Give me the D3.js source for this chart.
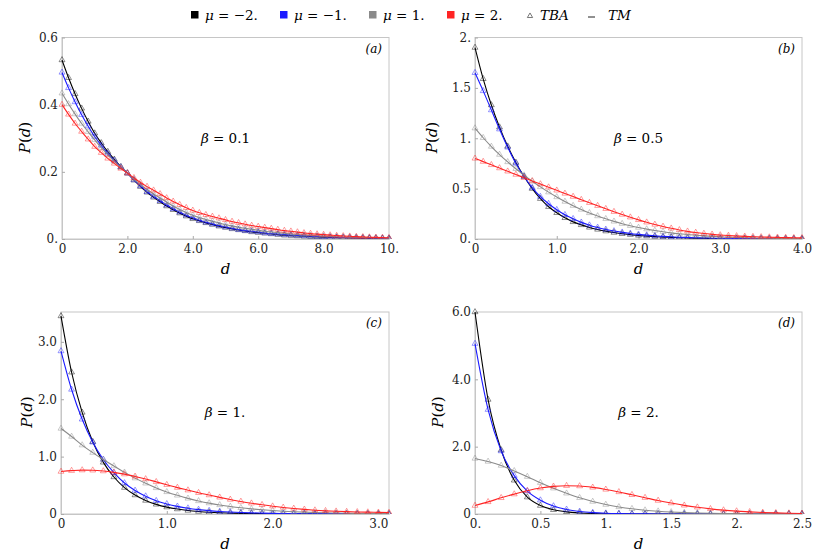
<!DOCTYPE html>
<html>
<head>
<meta charset="utf-8">
<script src="https://cdn.jsdelivr.net/npm/d3@7"></script>
<style>body { margin: 0; background: #fff; }</style>
</head>
<body>
<div id="chart"></div>
<script>
'use strict';

const seriesNames = ['−2.', '−1.', '1.', '2.'];
const seriesColours = ['#000000', '#1a1aff', '#8a8a8a', '#ff2424'];

// (a) beta = 0.1
const dA = [0, 0.2, 0.4, 0.6, 0.8, 1, 1.2, 1.4, 1.6, 1.8, 2, 2.2, 2.4, 2.6, 2.8, 3, 3.2, 3.4, 3.6, 3.8, 4,
    4.2, 4.4, 4.6, 4.8, 5, 5.2, 5.4, 5.6, 5.8, 6, 6.2, 6.4, 6.6, 6.8, 7, 7.2, 7.4, 7.6, 7.8, 8,
    8.2, 8.4, 8.6, 8.8, 9, 9.2, 9.4, 9.6, 9.8, 10];
const aMuM2 = [0.533, 0.480, 0.432, 0.389, 0.350, 0.315, 0.286, 0.260, 0.237, 0.215, 0.196, 0.175, 0.156, 0.139, 0.124, 0.111,
    0.098, 0.087, 0.077, 0.068, 0.060, 0.054, 0.048, 0.043, 0.038, 0.034, 0.030, 0.027, 0.024, 0.021, 0.019,
    0.017, 0.015, 0.013, 0.011, 0.010, 0.009, 0.008, 0.007, 0.006, 0.005, 0.0045, 0.004, 0.0036, 0.0032, 0.0028,
    0.0024, 0.002, 0.0017, 0.0014, 0.0012];
const aMuM1 = [0.496, 0.450, 0.408, 0.370, 0.336, 0.305, 0.279, 0.255, 0.234, 0.214, 0.196, 0.176, 0.158, 0.141, 0.127, 0.114,
    0.101, 0.090, 0.080, 0.071, 0.063, 0.056, 0.050, 0.045, 0.040, 0.036, 0.032, 0.028, 0.025, 0.023, 0.021,
    0.018, 0.016, 0.015, 0.013, 0.012, 0.0105, 0.0093, 0.0082, 0.0073, 0.0065, 0.0057, 0.005, 0.0044, 0.0039, 0.0034,
    0.003, 0.0026, 0.0023, 0.002, 0.0018];
const aMu1 = [0.434, 0.402, 0.372, 0.344, 0.319, 0.295, 0.272, 0.251, 0.231, 0.213, 0.196, 0.178, 0.162, 0.147, 0.134, 0.122,
    0.110, 0.098, 0.088, 0.079, 0.071, 0.064, 0.058, 0.053, 0.048, 0.043, 0.039, 0.035, 0.032, 0.029, 0.026,
    0.023, 0.021, 0.019, 0.017, 0.015, 0.0134, 0.012, 0.0107, 0.0095, 0.0085, 0.0076, 0.0068, 0.0061, 0.0055, 0.005,
    0.0044, 0.0038, 0.0033, 0.0029, 0.0025];
const aMu2 = [0.400, 0.371, 0.344, 0.320, 0.297, 0.275, 0.257, 0.240, 0.225, 0.210, 0.196, 0.182, 0.168, 0.156, 0.145, 0.134,
    0.122, 0.112, 0.102, 0.093, 0.085, 0.078, 0.072, 0.067, 0.062, 0.057, 0.052, 0.048, 0.044, 0.040, 0.037,
    0.034, 0.031, 0.028, 0.025, 0.023, 0.0205, 0.018, 0.016, 0.0145, 0.013, 0.0115, 0.010, 0.009, 0.008, 0.007,
    0.0062, 0.0054, 0.0047, 0.0041, 0.0035];

// (b) beta = 0.5
const dB = [0, 0.1, 0.2, 0.3, 0.4, 0.5, 0.6, 0.7, 0.8, 0.9, 1, 1.1, 1.2, 1.3, 1.4, 1.5, 1.6, 1.7, 1.8, 1.9, 2,
    2.1, 2.2, 2.3, 2.4, 2.5, 2.6, 2.7, 2.8, 2.9, 3, 3.1, 3.2, 3.3, 3.4, 3.5, 3.6, 3.7, 3.8, 3.9, 4];
const bMuM2 = [1.90, 1.59, 1.33, 1.11, 0.92, 0.76, 0.62, 0.50, 0.40, 0.32, 0.26, 0.21, 0.17, 0.14, 0.115, 0.095,
    0.078, 0.064, 0.052, 0.043, 0.035, 0.029, 0.024, 0.019, 0.016, 0.013, 0.010, 0.008, 0.007, 0.005, 0.004,
    0.0035, 0.003, 0.0025, 0.002, 0.0015, 0.0012, 0.001, 0.0008, 0.0006, 0.0005];
const bMuM1 = [1.65, 1.47, 1.28, 1.09, 0.91, 0.75, 0.62, 0.51, 0.42, 0.35, 0.29, 0.24, 0.20, 0.165, 0.137, 0.114,
    0.095, 0.079, 0.066, 0.055, 0.046, 0.038, 0.032, 0.026, 0.022, 0.018, 0.015, 0.012, 0.010, 0.008, 0.007,
    0.006, 0.005, 0.004, 0.0033, 0.0027, 0.0022, 0.0018, 0.0015, 0.0012, 0.001];
const bMu1 = [1.10, 1.005, 0.918, 0.838, 0.765, 0.697, 0.633, 0.573, 0.517, 0.465, 0.417, 0.372, 0.331, 0.293, 0.259, 0.228,
    0.200, 0.175, 0.152, 0.132, 0.114, 0.098, 0.084, 0.072, 0.061, 0.052, 0.044, 0.037, 0.031, 0.026, 0.022,
    0.018, 0.015, 0.013, 0.011, 0.009, 0.0075, 0.0063, 0.0053, 0.0045, 0.0038];
const bMu2 = [0.80, 0.768, 0.736, 0.704, 0.672, 0.640, 0.608, 0.576, 0.545, 0.514, 0.483, 0.452, 0.421, 0.390, 0.360, 0.330,
    0.300, 0.271, 0.243, 0.216, 0.190, 0.166, 0.144, 0.124, 0.106, 0.090, 0.076, 0.064, 0.054, 0.046, 0.039,
    0.034, 0.030, 0.026, 0.023, 0.020, 0.018, 0.016, 0.014, 0.012, 0.011];

// (c) beta = 1.
const dC = [0, 0.1, 0.2, 0.3, 0.4, 0.5, 0.6, 0.7, 0.8, 0.9, 1, 1.1, 1.2, 1.3, 1.4, 1.5, 1.6, 1.7, 1.8, 1.9, 2,
    2.1, 2.2, 2.3, 2.4, 2.5, 2.6, 2.7, 2.8, 2.9, 3, 3.1];
const cMuM2 = [3.45, 2.47, 1.77, 1.26, 0.90, 0.645, 0.46, 0.33, 0.235, 0.168, 0.12, 0.086, 0.061, 0.044, 0.031, 0.022,
    0.016, 0.011, 0.008, 0.006, 0.004, 0.003, 0.002, 0.0015, 0.001, 0.0008, 0.0006, 0.0004, 0.0003, 0.0002, 0.0002, 0.0001];
const cMuM1 = [2.84, 2.17, 1.65, 1.25, 0.95, 0.72, 0.54, 0.41, 0.31, 0.23, 0.175, 0.133, 0.101, 0.077, 0.058, 0.044,
    0.034, 0.026, 0.020, 0.015, 0.011, 0.0085, 0.0064, 0.0049, 0.0037, 0.0028, 0.0021, 0.0016, 0.0012, 0.0009, 0.0007, 0.0005];
const cMu1 = [1.49, 1.35, 1.20, 1.07, 0.95, 0.835, 0.725, 0.625, 0.535, 0.455, 0.385, 0.325, 0.272, 0.228, 0.19, 0.158,
    0.131, 0.108, 0.089, 0.073, 0.06, 0.049, 0.04, 0.032, 0.026, 0.021, 0.017, 0.013, 0.011, 0.0085, 0.0068, 0.0054];
const cMu2 = [0.74, 0.755, 0.765, 0.762, 0.748, 0.725, 0.695, 0.655, 0.61, 0.56, 0.51, 0.46, 0.415, 0.37, 0.33, 0.29,
    0.253, 0.218, 0.187, 0.16, 0.135, 0.114, 0.096, 0.08, 0.066, 0.055, 0.047, 0.041, 0.036, 0.032, 0.028, 0.025];

// (d) beta = 2.
const dD = [0, 0.1, 0.2, 0.3, 0.4, 0.5, 0.6, 0.7, 0.8, 0.9, 1, 1.1, 1.2, 1.3, 1.4, 1.5, 1.6, 1.7, 1.8, 1.9, 2,
    2.1, 2.2, 2.3, 2.4, 2.5];
const dMuM2 = [6.0, 3.4, 1.9, 1.0, 0.50, 0.25, 0.125, 0.062, 0.031, 0.015, 0.0075, 0.0037, 0.0018, 0.0009, 0.0004, 0.0002,
    0.0001, 0.0001, 0, 0, 0, 0, 0, 0, 0, 0];
const dMuM1 = [5.06, 3.1, 1.87, 1.14, 0.68, 0.41, 0.235, 0.135, 0.075, 0.041, 0.022, 0.012, 0.0063, 0.0033, 0.0017, 0.0009,
    0.0005, 0.0003, 0.0002, 0.0001, 0.0001, 0, 0, 0, 0, 0];
const dMu1 = [1.65, 1.56, 1.44, 1.28, 1.11, 0.93, 0.765, 0.615, 0.48, 0.37, 0.28, 0.21, 0.155, 0.113, 0.082, 0.059,
    0.042, 0.03, 0.021, 0.015, 0.011, 0.008, 0.0055, 0.004, 0.0028, 0.002];
const dMu2 = [0.25, 0.36, 0.48, 0.59, 0.69, 0.77, 0.82, 0.84, 0.83, 0.79, 0.73, 0.655, 0.57, 0.485, 0.40, 0.325,
    0.257, 0.20, 0.152, 0.114, 0.085, 0.062, 0.045, 0.033, 0.024, 0.017];

// ticks
const xTicksA = [0, 2, 4, 6, 8, 10];
const xTickLabelsA = ['0', '2.0', '4.0', '6.0', '8.0', '10.'];
const yTicksA = [0, 0.2, 0.4, 0.6];
const yTickLabelsA = ['0.', '0.2', '0.4', '0.6'];
const xTicksB = [0, 1, 2, 3, 4];
const xTickLabelsB = ['0', '1.0', '2.0', '3.0', '4.0'];
const yTicksB = [0, 0.5, 1, 1.5, 2];
const yTickLabelsB = ['0.', '0.5', '1.', '1.5', '2.'];
const xTicksC = [0, 1, 2, 3];
const xTickLabelsC = ['0', '1.0', '2.0', '3.0'];
const yTicksC = [0, 1, 2, 3];
const yTickLabelsC = ['0', '1.0', '2.0', '3.0'];
const xTicksD = [0, 0.5, 1, 1.5, 2, 2.5];
const xTickLabelsD = ['0.', '0.5', '1.', '1.5', '2.', '2.5'];
const yTicksD = [0, 2, 4, 6];
const yTickLabelsD = ['0', '2.0', '4.0', '6.0'];

const panels = [
    { tag: '(a)', beta: '0.1', d: dA, ys: [aMuM2, aMuM1, aMu1, aMu2], xMax: 10, yMax: 0.6,
      left: 62, right: 389, top: 37.5, bottom: 239, yLabelX: 25,
      xTicks: xTicksA, xTickLabels: xTickLabelsA, yTicks: yTicksA, yTickLabels: yTickLabelsA },
    { tag: '(b)', beta: '0.5', d: dB, ys: [bMuM2, bMuM1, bMu1, bMu2], xMax: 4, yMax: 2,
      left: 475, right: 802, top: 37.5, bottom: 239, yLabelX: 432,
      xTicks: xTicksB, xTickLabels: xTickLabelsB, yTicks: yTicksB, yTickLabels: yTickLabelsB },
    { tag: '(c)', beta: '1.', d: dC, ys: [cMuM2, cMuM1, cMu1, cMu2], xMax: 3.1, yMax: 3.52,
      left: 61, right: 389, top: 312, bottom: 514, yLabelX: 27,
      xTicks: xTicksC, xTickLabels: xTickLabelsC, yTicks: yTicksC, yTickLabels: yTickLabelsC },
    { tag: '(d)', beta: '2.', d: dD, ys: [dMuM2, dMuM1, dMu1, dMu2], xMax: 2.5, yMax: 6,
      left: 475, right: 802, top: 312, bottom: 514, yLabelX: 438,
      xTicks: xTicksD, xTickLabels: xTickLabelsD, yTicks: yTicksD, yTickLabels: yTickLabelsD }
];

const serif = '"DejaVu Serif"';

const svg = d3.select('#chart')
    .append('svg')
    .attr('width', 830)
    .attr('height', 560);

const frameColour = '#c6c6c6';
const triangle = d3.symbol().type(d3.symbolTriangle).size(15);

panels.forEach(function (p, k) {
    const xScale = d3.scaleLinear().domain([0, p.xMax]).range([p.left, p.right]);
    const yScale = d3.scaleLinear().domain([0, p.yMax]).range([p.bottom, p.top]);

    svg.append('clipPath')
        .attr('id', 'clip' + k)
        .append('rect')
        .attr('x', p.left - 4)
        .attr('y', p.top - 4)
        .attr('width', p.right - p.left + 8)
        .attr('height', p.bottom - p.top + 4);

    svg.append('rect')
        .attr('x', p.left)
        .attr('y', p.top)
        .attr('width', p.right - p.left)
        .attr('height', p.bottom - p.top)
        .attr('fill', 'none')
        .attr('stroke', frameColour);

    const xAxis = svg.append('g')
        .attr('transform', `translate(0,${p.bottom})`)
        .call(d3.axisBottom(xScale)
            .tickValues(p.xTicks)
            .tickFormat(function (d, i) { return p.xTickLabels[i]; })
            .tickSizeInner(-3)
            .tickSizeOuter(0)
            .tickPadding(5));

    const yAxis = svg.append('g')
        .attr('transform', `translate(${p.left},0)`)
        .call(d3.axisLeft(yScale)
            .tickValues(p.yTicks)
            .tickFormat(function (d, i) { return p.yTickLabels[i]; })
            .tickSizeInner(-3)
            .tickSizeOuter(0)
            .tickPadding(4));

    [xAxis, yAxis].forEach(function (ax) {
        ax.attr('font-family', null).attr('font-size', null);
        ax.select('.domain').attr('stroke', frameColour);
        ax.selectAll('.tick line').attr('stroke', '#aaaaaa');
        ax.selectAll('.tick text')
            .style('font-family', serif)
            .style('font-size', '12px')
            .attr('fill', '#222');
    });

    const plot = svg.append('g').attr('clip-path', `url(#clip${k})`);

    p.ys.forEach(function (vals, s) {
        const pts = p.d.map(function (d, i) { return [d, vals[i]]; });

        plot.append('path')
            .datum(pts)
            .attr('fill', 'none')
            .attr('stroke', seriesColours[s])
            .attr('stroke-width', 1.1)
            .attr('d', d3.line()
                .x(function (q) { return xScale(q[0]); })
                .y(function (q) { return yScale(q[1]); })
                .curve(d3.curveMonotoneX));

        plot.selectAll('path.tba' + s)
            .data(pts)
            .join('path')
            .attr('class', 'tba' + s)
            .attr('d', triangle)
            .attr('transform', function (q) { return `translate(${xScale(q[0])},${yScale(q[1])})`; })
            .attr('fill', 'none')
            .attr('stroke', seriesColours[s])
            .attr('stroke-opacity', 0.55)
            .attr('stroke-width', 0.8);
    });

    const midX = (p.left + p.right) / 2;

    svg.append('text')
        .attr('x', p.right - 7)
        .attr('y', p.top + 15)
        .attr('text-anchor', 'end')
        .style('font-family', serif)
        .style('font-size', '12px')
        .style('font-style', 'italic')
        .text(p.tag);

    const bt = svg.append('text')
        .attr('x', midX)
        .attr('y', p.top + 105)
        .attr('text-anchor', 'middle')
        .style('font-family', serif)
        .style('font-size', '13.5px');
    bt.append('tspan').style('font-style', 'italic').text('β');
    bt.append('tspan').text(' = ' + p.beta);

    svg.append('text')
        .attr('x', midX)
        .attr('y', p.bottom + 35)
        .attr('text-anchor', 'middle')
        .style('font-family', serif)
        .style('font-size', '15px')
        .style('font-style', 'italic')
        .text('d');

    const yt = svg.append('text')
        .attr('transform', `translate(${p.yLabelX},${p.top + 100}) rotate(-90)`)
        .attr('text-anchor', 'middle')
        .attr('dy', '0.35em')
        .style('font-family', serif)
        .style('font-size', '15px');
    yt.append('tspan').style('font-style', 'italic').text('P');
    yt.append('tspan').text('(');
    yt.append('tspan').style('font-style', 'italic').text('d');
    yt.append('tspan').text(')');
});

// legend
const legendX = [191, 280, 369, 447];
const legend = svg.append('g');
seriesNames.forEach(function (name, i) {
    legend.append('rect')
        .attr('x', legendX[i])
        .attr('y', 11)
        .attr('width', 7.5)
        .attr('height', 7.5)
        .attr('fill', seriesColours[i]);
    const t = legend.append('text')
        .attr('x', legendX[i] + 14)
        .attr('y', 19.5)
        .style('font-family', serif)
        .style('font-size', '13.5px');
    t.append('tspan').style('font-style', 'italic').text('μ');
    t.append('tspan').text(' = ' + name);
});

legend.append('path')
    .attr('d', d3.symbol().type(d3.symbolTriangle).size(12))
    .attr('transform', 'translate(530,16)')
    .attr('fill', 'none')
    .attr('stroke', '#555')
    .attr('stroke-width', 0.8);
legend.append('text')
    .attr('x', 540)
    .attr('y', 19.5)
    .style('font-family', serif)
    .style('font-size', '13.5px')
    .style('font-style', 'italic')
    .text('TBA');
legend.append('line')
    .attr('x1', 588)
    .attr('x2', 595)
    .attr('y1', 17)
    .attr('y2', 17)
    .attr('stroke', '#222')
    .attr('stroke-width', 1);
legend.append('text')
    .attr('x', 608)
    .attr('y', 19.5)
    .style('font-family', serif)
    .style('font-size', '13.5px')
    .style('font-style', 'italic')
    .text('TM');
</script>
</body>
</html>
